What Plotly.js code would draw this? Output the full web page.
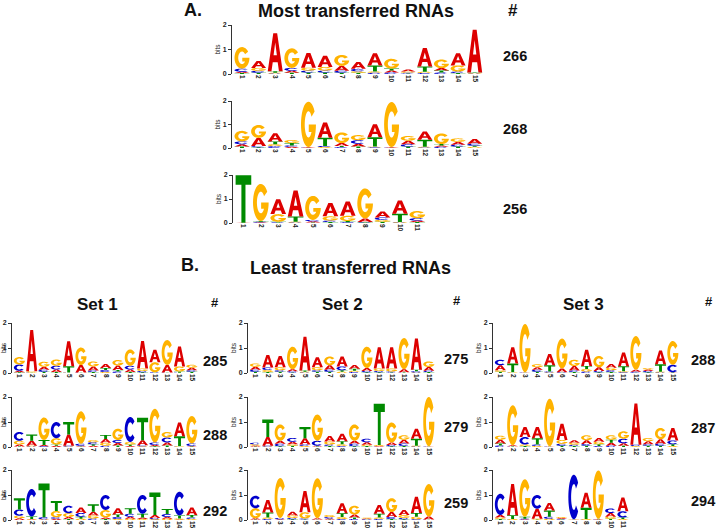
<!DOCTYPE html>
<html><head><meta charset="utf-8">
<script src="https://cdn.plot.ly/plotly-3.0.1.min.js"></script>
<style>html,body{margin:0;padding:0;background:#fff}#chart{width:716px;height:529px}</style>
</head><body><div id="chart"></div>
<script>
// ---------- DATA (bits per position) ----------
// A. Most transferred RNAs
const m1_A = [0.05,0.28,1.55,0.08,0.60,0.45,0.20,0.28,0.50,0.08,0.08,0.75,0.10,0.50,1.75];
const m1_C = [0.13,0.08,0.02,0.12,0.08,0.08,0.08,0.10,0.05,0.06,0.03,0.04,0.06,0.06,0.02];
const m1_G = [0.88,0.12,0.03,0.80,0.12,0.15,0.45,0.06,0.05,0.40,0.05,0.05,0.35,0.25,0.02];
const m1_T = [0.04,0.05,0.06,0.05,0.06,0.06,0.05,0.05,0.25,0.08,0.02,0.22,0.08,0.04,0.02];

const m2_A = [0.10,0.35,0.35,0.05,0.02,0.65,0.12,0.12,0.55,0.02,0.15,0.35,0.06,0.12,0.20];
const m2_C = [0.12,0.05,0.08,0.06,0.01,0.05,0.04,0.15,0.03,0.01,0.10,0.02,0.05,0.08,0.08];
const m2_G = [0.45,0.55,0.08,0.13,1.93,0.04,0.45,0.22,0.03,1.92,0.20,0.03,0.45,0.15,0.05];
const m2_T = [0.06,0.03,0.12,0.10,0.01,0.35,0.05,0.06,0.40,0.01,0.06,0.30,0.06,0.06,0.05];

const m3_A = [0.01,0.02,0.62,1.08,0.05,0.55,0.60,0.15,0.25,0.55,0.06];
const m3_C = [0.00,0.03,0.02,0.02,0.06,0.06,0.03,0.02,0.10,0.02,0.10];
const m3_G = [0.00,1.55,0.32,0.03,1.00,0.18,0.22,1.25,0.08,0.02,0.30];
const m3_T = [1.98,0.03,0.03,0.22,0.02,0.04,0.05,0.02,0.05,0.35,0.04];

// B. Least transferred RNAs - Set 1
const s1a_A = [0.06,1.65,0.12,0.10,1.00,0.30,0.16,0.16,0.18,0.10,1.10,0.50,0.30,0.80,0.10];
const s1a_C = [0.25,0.01,0.08,0.15,0.01,0.01,0.06,0.08,0.06,0.15,0.05,0.02,0.01,0.01,0.06];
const s1a_G = [0.30,0.05,0.20,0.25,0.01,0.70,0.20,0.04,0.22,0.65,0.10,0.40,1.00,0.20,0.12];
const s1a_T = [0.03,0.01,0.05,0.04,0.25,0.01,0.04,0.08,0.06,0.04,0.03,0.01,0.01,0.05,0.05];

const s1b_A = [0.08,0.20,0.05,0.05,0.45,0.03,0.05,0.15,0.10,0.04,0.20,0.05,0.12,0.55,0.02];
const s1b_C = [0.35,0.02,0.03,0.65,0.03,0.08,0.08,0.05,0.12,1.00,0.04,0.10,0.20,0.01,0.10];
const s1b_G = [0.15,0.03,0.90,0.25,0.02,1.30,0.08,0.12,0.45,0.10,0.03,1.35,0.22,0.02,1.10];
const s1b_T = [0.02,0.25,0.20,0.05,0.50,0.02,0.06,0.16,0.06,0.06,0.90,0.03,0.06,0.40,0.02];

const s1c_A = [0.07,0.02,0.01,0.05,0.08,0.22,0.15,0.06,0.25,0.08,0.06,0.12,0.07,0.02,0.30];
const s1c_C = [0.25,1.10,0.08,0.06,0.30,0.15,0.06,0.60,0.08,0.12,0.75,0.05,0.12,0.95,0.06];
const s1c_G = [0.10,0.02,0.02,0.25,0.15,0.05,0.12,0.30,0.04,0.05,0.04,0.03,0.05,0.04,0.04];
const s1c_T = [0.45,0.10,1.35,0.40,0.04,0.08,0.30,0.04,0.10,0.22,0.15,0.90,0.20,0.12,0.10];

// Set 2
const s2a_A = [0.12,0.50,0.45,0.08,1.35,0.40,0.18,0.40,0.15,0.12,0.85,0.85,0.12,1.25,0.15];
const s2a_C = [0.08,0.10,0.06,0.05,0.02,0.06,0.08,0.15,0.04,0.05,0.05,0.04,0.01,0.05,0.05];
const s2a_G = [0.13,0.08,0.12,0.90,0.03,0.12,0.35,0.05,0.05,0.85,0.10,0.12,1.25,0.02,0.22];
const s2a_T = [0.05,0.04,0.05,0.02,0.05,0.05,0.05,0.06,0.08,0.03,0.03,0.02,0.02,0.06,0.04];

const s2b_A = [0.04,0.35,0.12,0.10,0.25,0.03,0.22,0.30,0.12,0.10,0.03,0.10,0.15,0.40,0.01];
const s2b_C = [0.06,0.03,0.10,0.15,0.06,0.20,0.06,0.04,0.10,0.14,0.01,0.05,0.10,0.02,0.01];
const s2b_G = [0.05,0.02,0.65,0.06,0.04,1.05,0.12,0.07,0.65,0.05,0.04,0.80,0.18,0.03,1.97];
const s2b_T = [0.02,0.70,0.03,0.05,0.45,0.02,0.04,0.12,0.03,0.04,1.65,0.03,0.04,0.28,0.01];

const s2c_A = [0.05,0.50,0.02,0.15,0.85,0.05,0.04,0.40,0.12,0.03,0.35,0.20,0.20,0.65,0.12];
const s2c_C = [0.50,0.04,0.05,0.05,0.04,0.01,0.06,0.04,0.04,0.02,0.04,0.08,0.05,0.03,0.01];
const s2c_G = [0.40,0.06,1.60,0.10,0.25,1.60,0.08,0.08,0.35,0.03,0.06,0.55,0.12,0.10,1.30];
const s2c_T = [0.02,0.20,0.01,0.03,0.02,0.01,0.02,0.15,0.06,0.01,0.15,0.04,0.03,0.15,0.01];

// Set 3
const s3a_A = [0.20,0.65,0.01,0.10,0.45,0.15,0.18,0.65,0.15,0.15,0.55,0.08,0.06,0.55,0.01];
const s3a_C = [0.22,0.01,0.01,0.08,0.04,0.02,0.06,0.06,0.05,0.07,0.03,0.04,0.05,0.02,0.30];
const s3a_G = [0.06,0.02,1.93,0.12,0.02,1.20,0.25,0.10,0.45,0.10,0.04,1.35,0.06,0.03,0.95];
const s3a_T = [0.05,0.35,0.01,0.05,0.25,0.01,0.04,0.12,0.03,0.04,0.20,0.01,0.03,0.30,0.02];

const s3b_A = [0.15,0.04,0.40,0.45,0.01,0.65,0.10,0.15,0.15,0.12,0.10,1.65,0.12,0.18,0.50];
const s3b_C = [0.06,0.01,0.30,0.06,0.01,0.08,0.05,0.07,0.04,0.05,0.18,0.05,0.06,0.08,0.15];
const s3b_G = [0.16,1.60,0.06,0.04,1.90,0.15,0.08,0.20,0.10,0.18,0.30,0.03,0.13,0.45,0.04];
const s3b_T = [0.08,0.02,0.04,0.25,0.01,0.05,0.04,0.05,0.07,0.12,0.05,0.01,0.05,0.05,0.07];

const s3c_A = [0.10,1.25,0.02,0.40,0.30,0.04,0.01,0.60,0.02,0.15,0.55];
const s3c_C = [0.85,0.01,0.03,0.55,0.08,0.02,1.78,0.01,0.01,0.18,0.25];
const s3c_G = [0.06,0.03,1.50,0.03,0.05,0.04,0.01,0.03,1.93,0.08,0.04];
const s3c_T = [0.04,0.15,0.08,0.02,0.25,0.02,0.01,0.45,0.02,0.05,0.06];

// Sequence counts (#) per logo
const logoCounts = ['266','268','256','285','288','292','275','279','259','288','287','294'];
const nucleotides = ['A','C','G','T'];
const yTickVals = [0,1,2];

// ---------- LAYOUT GEOMETRY (pixels) ----------
const W = 716, H = 529;
const logoSets = [
  [m1_A,m1_C,m1_G,m1_T],[m2_A,m2_C,m2_G,m2_T],[m3_A,m3_C,m3_G,m3_T],
  [s1a_A,s1a_C,s1a_G,s1a_T],[s1b_A,s1b_C,s1b_G,s1b_T],[s1c_A,s1c_C,s1c_G,s1c_T],
  [s2a_A,s2a_C,s2a_G,s2a_T],[s2b_A,s2b_C,s2b_G,s2b_T],[s2c_A,s2c_C,s2c_G,s2c_T],
  [s3a_A,s3a_C,s3a_G,s3a_T],[s3b_A,s3b_C,s3b_G,s3b_T],[s3c_A,s3c_C,s3c_G,s3c_T]
];
// [left, right, top(2 bits), bottom(0 bits)]
const panelBoxes = [
  [232,483,25,74],[232,483,101,148],[233,426,175,223],
  [12,198,323,373],[12,198,397,447],[12,198,470,520],
  [248,435,323,373],[248,435,397,447],[248,435,470,520],
  [493,679,323,373],[493,679,397,447],[493,629,470,520]
];
// count label positions [x, y]
const countPos = [
  [515,56],[515,129],[515,209],
  [215,361],[215,435],[215,511],
  [456,359],[456,427],[456,503],
  [703,360],[703,428],[703,501]
];

const colors = {A:'#DD0000', C:'#0000CC', G:'#FFB300', T:'#008A00'};
const FONT = 'Liberation Sans, Arial, Helvetica, sans-serif';
const fx = px => px / W;
const fy = py => 1 - py / H;

// ---------- GLYPH OUTLINES (unit box) ----------
function arc(cx, cy, rx, ry, a0, a1, n) {
  const pts = [];
  for (let i = 0; i <= n; i++) {
    const a = (a0 + (a1 - a0) * i / n) * Math.PI / 180;
    pts.push([cx + rx * Math.cos(a), cy + ry * Math.sin(a)]);
  }
  return pts;
}
const glyphs = {
  A: [
    [[0,0],[0.37,1],[0.63,1],[1,0],[0.75,0],[0.665,0.24],[0.335,0.24],[0.25,0]],
    [[0.39,0.42],[0.61,0.42],[0.5,0.76]]
  ],
  C: [ arc(0.5,0.5,0.5,0.5,40,320,36).concat(arc(0.5,0.5,0.25,0.29,320,40,36)) ],
  G: [ arc(0.5,0.5,0.5,0.5,35,360,36)
        .concat([[0.52,0.5],[0.52,0.334]])
        .concat(arc(0.5,0.5,0.25,0.29,325,35,36)) ],
  T: [ [[0,1],[1,1],[1,0.8],[0.63,0.8],[0.63,0],[0.37,0],[0.37,0.8],[0,0.8]] ]
};

function glyphPath(letter, xc, y0, h) {
  const pad = 0.05, w = 1 - 2 * pad, x0 = xc - 0.5 + pad;
  return glyphs[letter].map(poly =>
    'M' + poly.map(p => (x0 + p[0] * w).toFixed(4) + ',' + (y0 + p[1] * h).toFixed(4)).join('L') + 'Z'
  ).join('');
}

// ---------- BUILD ----------
const traces = [];
const shapes = [];
const annotations = [];
const layout = {
  width: W, height: H,
  margin: {l:0, r:0, t:0, b:0},
  paper_bgcolor: '#fff', plot_bgcolor: 'rgba(0,0,0,0)',
  showlegend: false,
  font: {family: FONT, color: '#111'}
};

logoSets.forEach((set, k) => {
  const s = k === 0 ? '' : String(k + 1);
  const n = set[0].length;
  const b = panelBoxes[k];
  const positions = set[0].map((_, i) => i + 1);
  const totals = positions.map((_, i) => set.reduce((acc, arr) => acc + arr[i], 0));

  traces.push({
    type: 'scatter', mode: 'markers', x: positions, y: totals,
    xaxis: 'x' + s, yaxis: 'y' + s,
    marker: {opacity: 0, size: 1}, hoverinfo: 'skip', showlegend: false
  });

  positions.forEach((pos, i) => {
    const stack = nucleotides.map((nt, j) => ({nt, h: set[j][i]}))
      .filter(d => d.h > 0)
      .sort((a, b2) => a.h - b2.h);
    let y0 = 0;
    stack.forEach(d => {
      shapes.push({
        type: 'path', xref: 'x' + s, yref: 'y' + s,
        path: glyphPath(d.nt, pos, y0, d.h),
        fillcolor: colors[d.nt], line: {width: 0}, layer: 'above'
      });
      y0 += d.h;
    });
  });

  layout['xaxis' + s] = {
    domain: [fx(b[0]), fx(b[1])], range: [0.4, n + 0.5], anchor: 'y' + s,
    tickmode: 'array', tickvals: positions, ticktext: positions.map(String),
    tickangle: 90, tickfont: {size: 6.5, family: FONT, color: '#222', weight: 'bold'},
    showgrid: false, zeroline: false, showline: false, ticks: '', fixedrange: true
  };
  layout['yaxis' + s] = {
    domain: [fy(b[3]), fy(b[2])], range: [0, 2], anchor: 'x' + s,
    tickmode: 'array', tickvals: yTickVals, ticktext: yTickVals.map(String),
    ticks: 'outside', ticklen: 3, tickwidth: 1, tickcolor: '#333',
    showline: true, linecolor: '#333', linewidth: 1,
    showgrid: false, zeroline: false, fixedrange: true,
    tickfont: {size: 7, family: FONT, color: '#222', weight: 'bold'},
    title: {text: 'bits', font: {size: 6.5, family: FONT, color: '#222'}, standoff: 1}
  };

  annotations.push({
    xref: 'paper', yref: 'paper', x: fx(countPos[k][0]), y: fy(countPos[k][1]),
    text: logoCounts[k], showarrow: false, xanchor: 'center', yanchor: 'middle',
    font: {size: 14.5, family: FONT, color: '#111', weight: 'bold'}
  });
});

const headings = [
  {t: 'A.', x: 193, y: 10, size: 18},
  {t: 'Most transferred RNAs', x: 356, y: 11, size: 18},
  {t: '#', x: 513, y: 11, size: 17},
  {t: 'B.', x: 190, y: 265, size: 18},
  {t: 'Least transferred RNAs', x: 350, y: 268, size: 18},
  {t: 'Set 1', x: 97, y: 304, size: 17},
  {t: 'Set 2', x: 342, y: 304, size: 17},
  {t: 'Set 3', x: 583, y: 304, size: 17},
  {t: '#', x: 215, y: 302, size: 13},
  {t: '#', x: 457, y: 300, size: 13},
  {t: '#', x: 709, y: 301, size: 13}
];
headings.forEach(h => annotations.push({
  xref: 'paper', yref: 'paper', x: fx(h.x), y: fy(h.y), text: h.t, showarrow: false,
  xanchor: 'center', yanchor: 'middle',
  font: {size: h.size, family: FONT, color: '#111', weight: 'bold'}
}));

layout.shapes = shapes;
layout.annotations = annotations;

Plotly.newPlot('chart', traces, layout, {displayModeBar: false, staticPlot: true});
</script>
</body></html>
